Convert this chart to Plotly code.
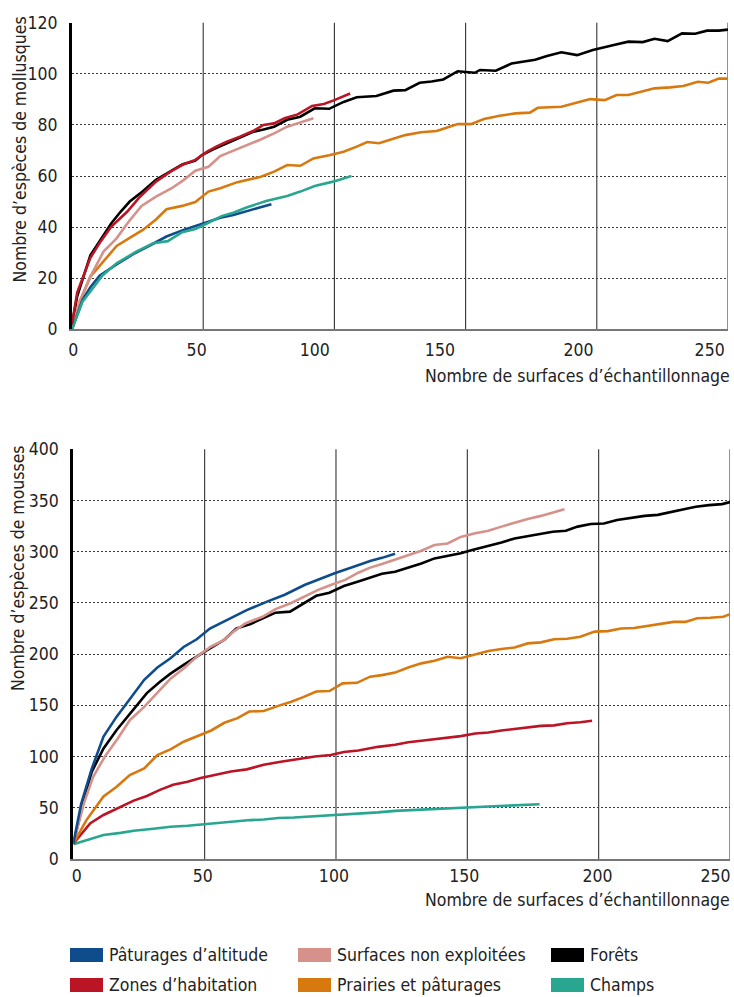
import plotly.graph_objects as go

W, H = 734, 997

# ---------------- data: mollusques (top) ----------------
mol_foret_x = [0, 2, 7, 11, 15, 18.5, 22, 27, 32, 37, 42, 47, 49.5, 54, 59, 64, 69, 73, 77, 82, 87, 92.5, 98, 103.5, 108.5,
               116, 122.5, 127, 132.5, 137, 141.5, 147, 153.5, 155.5, 161.5, 167.5, 172, 176.5, 181, 186.5, 192.5, 198.5,
               206.5, 212, 217.5, 222, 227, 232.5, 237.5, 242, 246.5, 250]
mol_foret_y = [2, 13, 29, 35, 41.5, 46, 50, 54, 58.5, 61.5, 64.5, 66, 68.2, 70.5, 72.8, 75, 77.3, 78.2, 79.3, 82, 83.2, 86.5,
               86.3, 89, 90.8, 91.3, 93.4, 93.6, 96.5, 97, 97.8, 101, 100.4, 101.5, 101.2, 104, 104.7, 105.5, 107, 108.4,
               107.3, 109.3, 111.3, 112.6, 112.4, 113.7, 112.8, 115.8, 115.7, 116.9, 116.9, 117.3]

mol_habit_x = [0, 2, 7, 11, 15, 21, 26, 32, 37.5, 42.5, 47, 51.5, 55, 59, 64, 69, 73, 77, 81, 86, 91.5, 96, 100, 103, 106]
mol_habit_y = [2, 14.5, 28, 34.5, 40.2, 46, 52, 57.8, 61.7, 64.6, 66.3, 69.5, 71.5, 73.4, 75.4, 77.6, 80, 80.6, 82.6, 84.1,
               87.4, 88.2, 89.7, 91, 92.3]

mol_nonexp_x = [0, 3, 7, 12, 17, 21.5, 26.5, 32, 38, 42.5, 47, 52, 56.5, 61.5, 66.5, 71.5, 77, 82, 87, 92]
mol_nonexp_y = [0, 11, 20.6, 30.4, 35.6, 42, 48.3, 51.9, 55.2, 58.4, 62.1, 63.6, 67.8, 69.9, 71.9, 74.1, 76.7, 79.3, 80.9, 82.6]

mol_prair_x = [0, 3, 7, 12, 17, 22, 27, 32, 36, 42, 47, 52, 56.5, 63, 67, 72, 77, 82, 87, 92, 98, 103.5, 108.5, 112.5, 117,
               122, 127, 133, 139, 143, 147, 152, 157, 163, 169, 174.5, 177.5, 186.5, 192.5, 197.5, 203, 207.5, 212, 217,
               222, 228, 233, 238.5, 242.5, 246.5, 250]
mol_prair_y = [0, 11, 20.6, 26.5, 32.6, 35.8, 38.9, 43, 47, 48.3, 49.8, 53.9, 55.2, 57.6, 58.6, 59.7, 61.7, 64.3, 64, 66.9,
               68.1, 69.5, 71.5, 73.3, 72.8, 74.3, 76, 77.1, 77.6, 79, 80.3, 80.3, 82.3, 83.6, 84.5, 84.8, 86.7, 87.1, 88.7,
               90.1, 89.7, 91.7, 91.7, 93, 94.3, 94.7, 95.2, 96.9, 96.5, 98.1, 98.1]

mol_alt_x = [0, 4, 7, 10.5, 17, 23.5, 30, 36, 42.5, 49, 56.5, 61.5, 66.5, 71.5, 76]
mol_alt_y = [0, 11.5, 16.5, 21, 25.4, 29.5, 33, 36.3, 38.9, 41.1, 43.7, 44.7, 46.3, 47.7, 48.9]

mol_champ_x = [0, 4, 7.5, 11.5, 17, 24.5, 31, 36.5, 42, 47, 52, 57, 61.5, 66.5, 74, 82, 87, 92.5, 99.5, 106.5]
mol_champ_y = [0, 10.8, 15.5, 21, 25.8, 30.4, 33.7, 34.5, 38, 39.2, 41.7, 44.3, 45.6, 47.7, 50.2, 52.2, 53.9, 56.1, 57.8, 60]

# ---------------- data: mousses (bottom) ----------------
mou_alt_x = [0, 3, 7, 11.5, 16.5, 23, 27, 32, 37, 42, 47, 52, 58.5, 66, 74, 80.5, 88, 94.5, 99.5, 107, 113, 117.5, 122.5]
mou_alt_y = [15, 54, 88, 119.5, 139, 162, 175, 187, 196, 207, 214.5, 225, 233.5, 243, 251.5, 258, 267.5, 274, 279, 285.5,
             291, 294, 298]

mou_foret_x = [0, 4, 7, 11.5, 16.5, 23, 28, 33, 37, 42, 47, 50, 57.5, 62, 67.5, 72.5, 77, 82.5, 87.5, 92.5, 97.5, 103,
               108.5, 113, 117.5, 122.5, 127.5, 132.5, 137.5, 142.5, 147.5, 151.5, 158, 163, 168, 173, 178, 182.5, 187.5,
               192, 197, 202, 207, 213, 217.5, 222.5, 227.5, 232.5, 237, 242, 247, 250]
mou_foret_y = [15, 57.5, 85, 108, 126, 147, 162, 173, 181, 189.5, 198, 202.5, 214, 225, 229.5, 235, 240.5, 241.5, 249.5,
               257, 260, 266.5, 271, 275, 278.5, 280.5, 284.5, 288.5, 293.5, 296, 298.5, 301.5, 305.5, 309, 313, 315.5,
               317.5, 319.5, 320.5, 324.5, 327, 327.5, 331, 333.5, 335, 336, 339, 341.5, 344, 345.5, 346.5, 348.5]

mou_nonexp_x = [0, 4, 7.5, 12, 17, 21.5, 27, 32, 37, 42, 47, 52.5, 57.5, 61, 65.5, 72, 77, 83, 88, 93, 98, 103.5, 108.5,
                113, 117.5, 122.5, 128, 132.5, 137.5, 142.5, 147.5, 153, 158, 163, 168, 173, 178, 183, 187]
mou_nonexp_y = [15, 54, 80, 100, 118, 135.5, 148.5, 162, 176, 186, 197.5, 207.5, 214, 222, 230, 236.5, 244, 250, 256,
                262.5, 267.5, 272.5, 279.5, 284.5, 288, 292, 297, 301, 306.5, 308, 314.5, 318, 320.5, 324.5, 328.5, 332,
                335, 339, 341.5]

mou_prair_x = [0, 5, 11.5, 16.5, 21.5, 27, 32, 37, 42, 47, 52.5, 57.5, 62.5, 67, 72.5, 78, 83, 87.5, 92.5, 97.5, 102.5,
               108, 113, 117.5, 122.5, 127.5, 132.5, 137.5, 142.5, 147.5, 153, 158, 163, 168, 173, 178, 183, 188, 193,
               198.5, 203.5, 208.5, 213.5, 218.5, 223.5, 228.5, 233, 237.5, 242.5, 247.5, 250]
mou_prair_y = [15, 38, 61, 70.5, 82, 88.5, 101.5, 107, 114.5, 119.5, 125.5, 133, 137.5, 144, 144.5, 149.5, 153.5, 158,
               163.5, 164, 171.5, 172, 178, 179.5, 182, 187, 191, 193.5, 197.5, 196, 200, 203, 205, 206.5, 210.5, 211.5,
               214.5, 215, 217, 222, 222.5, 225, 225.5, 227.5, 230, 231.5, 231.5, 235, 235.5, 236.5, 239]

mou_habit_x = [0, 6.5, 11.5, 18, 23, 28, 33, 38, 43.5, 48.5, 53.5, 60, 66, 72.5, 79, 85.5, 92, 98, 103, 108.5, 116,
               122.5, 127.5, 132.5, 137.5, 142.5, 147.5, 153, 158, 163, 168, 173, 178, 183, 188, 193, 197.5]
mou_habit_y = [15, 35, 43, 51, 57, 61.5, 67.5, 72.5, 75.5, 79, 82, 85.5, 87.5, 92, 95, 97.5, 100, 101.5, 104.5, 106,
               109.5, 111.5, 114, 115.5, 117, 119, 120, 122.5, 123.5, 125.5, 127, 128.5, 130, 130.5, 132.5, 133.5, 135]

mou_champ_x = [0, 6.5, 11.5, 18, 23, 30.5, 37, 43.5, 49.5, 56, 62.5, 67.5, 72.5, 78, 84, 90.5, 97, 103, 110, 116, 122.5,
               135, 147.5, 160.5, 177.5]
mou_champ_y = [14.5, 20, 23.5, 25.5, 27.5, 29.5, 31.5, 32.5, 34, 35.5, 36.5, 38, 38.5, 40, 40.5, 41.5, 42.5, 43, 44.5,
               45.5, 47, 48.5, 50, 51, 53.5]

# ---------------- labels ----------------
series_names = ["Pâturages d’altitude", "Surfaces non exploitées", "Forêts",
                "Zones d’habitation", "Prairies et pâturages", "Champs"]
series_colors = ["#0e4c8b", "#d5918a", "#000000", "#bb1424", "#d8790f", "#28a690"]
top_ytick = [0, 20, 40, 60, 80, 100, 120]
bot_ytick = [0, 50, 100, 150, 200, 250, 300, 350, 400]
xtick_text = ["0", "50", "100", "150", "200", "250"]
top_xtick_pos = [0.5, 47.5, 92.5, 140.2, 193, 243]
bot_xtick_pos = [1.3, 49.3, 99.2, 148.8, 199.6, 244.5]
x_grid = [50, 100, 150, 200]
x_title = "Nombre de surfaces d’échantillonnage"
y_title_top = "Nombre d’espèces de mollusques"
y_title_bot = "Nombre d’espèces de mousses"

FONT = "DejaVu Sans Condensed, Liberation Sans, Arial, sans-serif"
FS = 17.5
TXT = "#222222"
col = dict(zip(series_names, series_colors))

fig = go.Figure()

def add(x, y, name, xa, ya):
    fig.add_trace(go.Scatter(x=x, y=y, mode="lines", name=name, showlegend=False,
                             line=dict(color=col[name], width=2.6), xaxis=xa, yaxis=ya,
                             hoverinfo="skip"))

# top chart (draw order)
add(mol_foret_x, mol_foret_y, "Forêts", "x", "y")
add(mol_prair_x, mol_prair_y, "Prairies et pâturages", "x", "y")
add(mol_nonexp_x, mol_nonexp_y, "Surfaces non exploitées", "x", "y")
add(mol_alt_x, mol_alt_y, "Pâturages d’altitude", "x", "y")
add(mol_champ_x, mol_champ_y, "Champs", "x", "y")
add(mol_habit_x, mol_habit_y, "Zones d’habitation", "x", "y")
# bottom chart
add(mou_champ_x, mou_champ_y, "Champs", "x2", "y2")
add(mou_habit_x, mou_habit_y, "Zones d’habitation", "x2", "y2")
add(mou_prair_x, mou_prair_y, "Prairies et pâturages", "x2", "y2")
add(mou_foret_x, mou_foret_y, "Forêts", "x2", "y2")
add(mou_nonexp_x, mou_nonexp_y, "Surfaces non exploitées", "x2", "y2")
add(mou_alt_x, mou_alt_y, "Pâturages d’altitude", "x2", "y2")

def px(v):
    return v / W

def py(v):
    return 1 - v / H

ycommon = dict(showgrid=True, gridcolor="#3a3a3a", gridwidth=1, griddash="2px,2px", zeroline=False,
               showline=True, linecolor="#000000", linewidth=3, ticks="", ticklabelstandoff=8, automargin=False,
               tickfont=dict(family=FONT, size=FS, color=TXT), fixedrange=True)
xcommon = dict(showgrid=False, zeroline=False, showline=True, linecolor="#777777", linewidth=1.6, ticks="",
               automargin=False, tickfont=dict(family=FONT, size=FS, color=TXT), range=[0, 250], fixedrange=True)

fig.update_layout(
    template="none",
    width=W, height=H, margin=dict(l=0, r=0, t=0, b=0, pad=0), autosize=False,
    paper_bgcolor="white", plot_bgcolor="white",
    font=dict(family=FONT, size=FS, color=TXT),
    xaxis=dict(domain=[px(72), px(728)], anchor="y", tickmode="array", tickvals=top_xtick_pos,
               ticktext=xtick_text, ticklabelstandoff=4, **xcommon),
    yaxis=dict(domain=[py(329.3), py(22.7)], anchor="x", range=[0, 120], tickmode="array",
               tickvals=top_ytick, **ycommon),
    xaxis2=dict(domain=[px(73.3), px(730)], anchor="y2", tickmode="array", tickvals=bot_xtick_pos,
                ticktext=xtick_text, ticklabelstandoff=0, **xcommon),
    yaxis2=dict(domain=[py(859), py(449.3)], anchor="x2", range=[0, 400], tickmode="array",
                tickvals=bot_ytick, **ycommon),
    showlegend=False,
)

shapes = []
for xr, yr in (("x", "y"), ("x2", "y2")):
    for g in x_grid:
        shapes.append(dict(type="line", xref=xr, yref=yr + " domain", x0=g, x1=g, y0=0, y1=1,
                           line=dict(color="#333333", width=1.1), layer="below"))
    shapes.append(dict(type="line", xref=xr, yref=yr + " domain", x0=250, x1=250, y0=0, y1=1,
                       line=dict(color="#777777", width=1.6), layer="below"))

annotations = [
    dict(text=x_title, xref="paper", yref="paper", x=px(732), y=py(376), xanchor="right", yanchor="middle",
         showarrow=False, font=dict(family=FONT, size=FS, color=TXT)),
    dict(text=x_title, xref="paper", yref="paper", x=px(732), y=py(900), xanchor="right", yanchor="middle",
         showarrow=False, font=dict(family=FONT, size=FS, color=TXT)),
    dict(text=y_title_top, xref="paper", yref="paper", x=px(19), y=py(149.5), xanchor="center", yanchor="middle",
         textangle=-90, showarrow=False, font=dict(family=FONT, size=FS, color=TXT)),
    dict(text=y_title_bot, xref="paper", yref="paper", x=px(18), y=py(568), xanchor="center", yanchor="middle",
         textangle=-90, showarrow=False, font=dict(family=FONT, size=FS, color=TXT)),
]

# legend (2 rows x 3 columns)
leg_col_x = [70, 298, 551]
leg_row_y = [955, 985]
for i, name in enumerate(series_names):
    r, c = divmod(i, 3)
    x0 = leg_col_x[c]
    yc = leg_row_y[r]
    shapes.append(dict(type="rect", xref="paper", yref="paper", x0=px(x0), x1=px(x0 + 33),
                       y0=py(yc + 7), y1=py(yc - 7), fillcolor=col[name], line=dict(width=0)))
    annotations.append(dict(text=name, xref="paper", yref="paper", x=px(x0 + 37), y=py(yc), xanchor="left",
                            yanchor="middle", showarrow=False, font=dict(family=FONT, size=FS, color=TXT)))

fig.update_layout(shapes=shapes, annotations=annotations)

fig.write_html("out.html", config={"displayModeBar": False, "staticPlot": True},
               post_script="document.body.style.margin='0';document.body.style.overflow='hidden';")
